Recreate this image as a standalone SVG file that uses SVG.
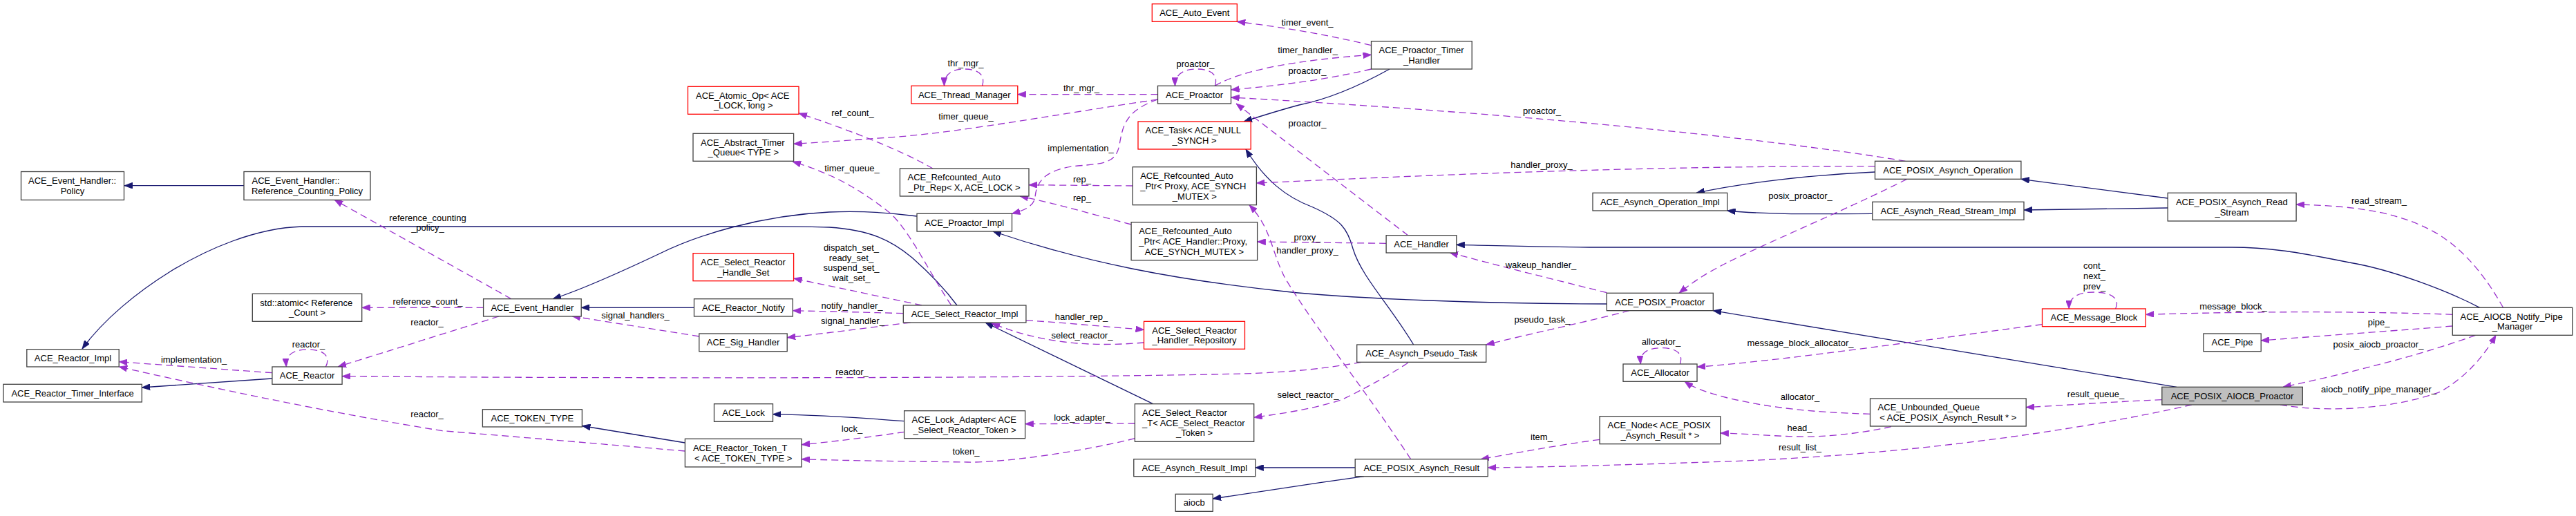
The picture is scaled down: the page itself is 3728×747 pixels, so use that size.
<svg xmlns="http://www.w3.org/2000/svg" width="3728" height="747" viewBox="0 0 3728 747">
<style>
text{font-family:"Liberation Sans",Arial,Helvetica,sans-serif;font-size:13px;fill:#000}
.c{text-anchor:middle}
.n rect{fill:#fff;stroke:#404040;stroke-width:1.3}
.r rect{fill:#fff;stroke:#ff0000;stroke-width:1.3}
.g rect{fill:#bfbfbf;stroke:#404040;stroke-width:1.3}
.inh{fill:none;stroke:#191970;stroke-width:1.3;marker-end:url(#ai)}
.use{fill:none;stroke:#9a32cd;stroke-width:1.3;stroke-dasharray:10,6;marker-end:url(#au)}
</style>
<defs>
<marker id="ai" viewBox="0 0 12 9" refX="12" refY="4.5" markerWidth="12" markerHeight="9" markerUnits="userSpaceOnUse" orient="auto"><path d="M0,0 L12,4.5 L0,9 z" fill="#191970" stroke="#191970" stroke-width="0.8"/></marker>
<marker id="au" viewBox="0 0 12 9" refX="12" refY="4.5" markerWidth="12" markerHeight="9" markerUnits="userSpaceOnUse" orient="auto"><path d="M0,0 L12,4.5 L0,9 z" fill="#9a32cd" stroke="#9a32cd" stroke-width="0.8"/></marker>
</defs>
<rect x="0" y="0" width="3728" height="747" fill="#fff"/>

<g id="edges">
<!-- inheritance -->
<path class="inh" d="M353,268.7 L180,268.7"/>
<path class="inh" d="M1385,442 C1365,415 1345,395 1320,373 C1290,348 1260,333 1200,329 C1150,327 1100,328 1069,328 L437,328 C370,330 300,360 245,394 C200,422 150,462 119,505"/>
<path class="inh" d="M1327,313 C1290,308 1250,305 1200,307 C1100,312 1010,340 955,367 C900,393 840,420 800,432.7"/>
<path class="inh" d="M1004.5,445.3 L841.2,445.3"/>
<path class="inh" d="M393.9,548 L205.3,561"/>
<path class="inh" d="M991.4,641 L842.4,616.5"/>
<path class="inh" d="M1308.6,609.7 C1250,605 1180,601 1118.4,599.7"/>
<path class="inh" d="M1668.6,584.7 L1426,467"/>
<path class="inh" d="M2325.3,440 C2150,440 1950,432 1860,422 C1700,405 1570,380 1437,335"/>
<path class="inh" d="M2011,100 C1975,120 1930,142 1880,152 C1850,160 1825,168 1800,176"/>
<path class="inh" d="M2045.7,499 C2010,440 1970,400 1958,360 C1950,330 1940,318 1900,300 C1860,285 1830,260 1803,216"/>
<path class="inh" d="M3150,560.3 L2479.2,449.7"/>
<path class="inh" d="M2713.5,249 C2620,253 2520,265 2455,279.3"/>
<path class="inh" d="M2709.8,309.3 C2600,310 2550,310 2499.6,305"/>
<path class="inh" d="M3137.2,287 L2925,259.3"/>
<path class="inh" d="M3137.2,301 L2929,304"/>
<path class="inh" d="M3588.6,445.3 C3540,420 3460,390 3400,380 C3340,368 3290,358 3230,358 L2300,358 C2200,357 2150,355 2107.8,354.3"/>
<path class="inh" d="M1961.2,677 L1816.7,677"/>
<path class="inh" d="M1974,689.7 C1900,700 1820,712 1755.1,722"/>

<!-- usage -->
<g><path class="use" d="M740,432.7 L484,289.3"/><text class="c" x="619" y="319.5">reference_counting</text><text class="c" x="619" y="333.5">_policy_</text></g>
<g><path class="use" d="M699.6,445.3 L523.7,445.3"/><text class="c" x="619" y="441">reference_count_</text></g>
<g><path class="use" d="M722,458 L489,531"/><text class="c" x="618" y="471">reactor_</text></g>
<g><path class="use" d="M1970,524.3 C1920,533 1880,538 1800,541 C1500,548 900,548 495.1,544.7"/><text class="c" x="1233" y="543">reactor_</text></g>
<g><path class="use" d="M991.4,653 C850,641 720,630 640,623.7 C480,598 300,560 172.2,531"/><text class="c" x="618" y="604">reactor_</text></g>
<g><path class="use" d="M393.9,539.7 L172.2,523.7"/><text class="c" x="280.6" y="525">implementation_</text></g>
<g><path class="use" d="M471.4,531 C478,518 472,506 445,506 C424,506 413,514 414.3,531"/><text class="c" x="446.5" y="502.5">reactor_</text></g>
<g><path class="use" d="M1011.8,487 L828,457.7"/><text class="c" x="919.5" y="461">signal_handlers_</text></g>
<g><path class="use" d="M1307.3,453.7 C1250,452 1200,451 1147.3,449.7"/><text class="c" x="1233" y="447">notify_handler_</text></g>
<g><path class="use" d="M1317.6,467 C1250,475 1200,482 1139.2,488.7"/><text class="c" x="1234" y="469">signal_handler_</text></g>
<g><path class="use" d="M1334,442 L1148.6,403"/><text class="c" x="1232" y="363">dispatch_set_</text><text class="c" x="1232" y="377.5">ready_set_</text><text class="c" x="1232" y="392">suspend_set_</text><text class="c" x="1232" y="406.5">wait_set_</text></g>
<g><path class="use" d="M1484.9,463.7 C1550,468 1600,473 1655.5,477.3"/><text class="c" x="1565" y="463">handler_rep_</text></g>
<g><path class="use" d="M1655.5,496 C1620,499 1580,500 1540,495 C1500,490 1465,480 1435,468"/><text class="c" x="1566" y="490">select_reactor_</text></g>
<g><path class="use" d="M1642.4,613 L1483.7,613.7"/><text class="c" x="1566" y="608.7">lock_adapter_</text></g>
<g><path class="use" d="M1642.4,634.7 C1560,655 1450,670 1400,669 C1320,668 1230,667 1160,664.7"/><text class="c" x="1398" y="658.3">token_</text></g>
<g><path class="use" d="M1308.6,625.3 C1270,631 1220,638 1160,643.7"/><text class="c" x="1233" y="625">lock_</text></g>
<g><path class="use" d="M2037.6,525.3 C2000,550 1960,570 1941.6,578.7 C1900,592 1860,598 1814.7,604.3"/><text class="c" x="1893" y="576">select_reactor_</text></g>
<g><path class="use" d="M2358,449.7 C2300,465 2220,482 2150.6,499"/><text class="c" x="2232" y="467">pseudo_task_</text></g>
<g><path class="use" d="M2325.3,423.7 C2250,405 2170,385 2098,365.7"/><text class="c" x="2230" y="387.7">wakeup_handler_</text></g>
<g><path class="use" d="M2759.6,259.3 C2680,300 2560,350 2500,380 C2470,395 2450,408 2430,424.3"/><text class="c" x="2605.5" y="288">posix_proactor_</text></g>
<g><path class="use" d="M2713.5,240.7 C2400,240 2100,252 1818.4,265"/><text class="c" x="2231" y="242.7">handler_proxy_</text></g>
<g><path class="use" d="M2757.5,233.3 C2620,210 2300,170 1781.6,141"/><text class="c" x="2231.5" y="165">proactor_</text></g>
<g><path class="use" d="M1984.5,100 C1920,115 1860,123 1781.6,130"/><text class="c" x="1892" y="107.3">proactor_</text></g>
<g><path class="use" d="M1758,124.3 C1800,100 1880,87 1984.5,79.3"/><text class="c" x="1892.5" y="76.7">timer_handler_</text></g>
<g><path class="use" d="M1984.5,65.7 C1920,50 1860,40 1790.2,31.3"/><text class="c" x="1892" y="36.7">timer_event_</text></g>
<g><path class="use" d="M1758.4,124.3 C1763,110 1755,100 1732,100 C1712,100 1700,108 1700.5,124.3"/><text class="c" x="1730" y="96.5">proactor_</text></g>
<g><path class="use" d="M1675.5,136.7 L1472.7,136.7"/><text class="c" x="1565" y="132.3">thr_mgr_</text></g>
<g><path class="use" d="M1421.6,124.3 C1426,110 1418,100 1396,100 C1377,100 1366,108 1366.5,124.3"/><text class="c" x="1397.5" y="95.7">thr_mgr_</text></g>
<g><path class="use" d="M1675.5,144 C1550,162 1400,190 1300,198 C1230,203 1190,206 1148.6,208.3"/><text class="c" x="1398" y="172.7">timer_queue_</text></g>
<g><path class="use" d="M1350,244 C1300,215 1220,185 1156,164"/><text class="c" x="1234" y="168">ref_count_</text></g>
<g><path class="use" d="M1376.7,442 C1345,395 1320,340 1290,310 C1240,270 1200,250 1147,234"/><text class="c" x="1233" y="248.3">timer_queue_</text></g>
<g><path class="use" d="M1675.5,144 C1630,160 1625,180 1620,210 C1615,235 1600,237 1560,240 C1510,245 1500,265 1498,285 C1496,300 1480,305 1464.5,309.3"/><text class="c" x="1564" y="219">implementation_</text></g>
<g><path class="use" d="M1639.2,269 L1489,267.7"/><text class="c" x="1566" y="264">rep_</text></g>
<g><path class="use" d="M1637.1,325 C1580,310 1530,295 1476,284"/><text class="c" x="1566" y="291.3">rep_</text></g>
<g><path class="use" d="M2006.1,352.3 L1819.6,350"/><text class="c" x="1892" y="348">proxy_</text></g>
<g><path class="use" d="M2041.6,664.7 C1980,570 1900,470 1860,403 C1840,365 1840,330 1808,296.7"/><text class="c" x="1892" y="367.3">handler_proxy_</text></g>
<g><path class="use" d="M2037.6,340.7 L1789,150"/><text class="c" x="1892" y="183">proactor_</text></g>
<g><path class="use" d="M2431.4,527 C2436,513 2428,503.7 2404,503.7 C2384,503.7 2373,511 2374.3,527"/><text class="c" x="2404" y="498.7">allocator_</text></g>
<g><path class="use" d="M2955.5,469.7 C2800,490 2600,520 2456,531.3"/><text class="c" x="2605.5" y="501">message_block_allocator_</text></g>
<g><path class="use" d="M2706.5,599.3 C2620,597 2560,590 2500,576 C2470,568 2452,562 2438,552.3"/><text class="c" x="2605" y="579.3">allocator_</text></g>
<g><path class="use" d="M2737,617.7 C2690,628 2640,633 2600,632 C2560,631 2530,628 2489.8,627"/><text class="c" x="2604.5" y="623.7">head_</text></g>
<g><path class="use" d="M2315.1,636.3 C2250,645 2200,655 2143,664.7"/><text class="c" x="2231" y="636.7">item_</text></g>
<g><path class="use" d="M3172,586 C3000,625 2750,660 2480,668.7 C2350,673 2250,676 2153.1,677"/><text class="c" x="2605" y="651.7">result_list_</text></g>
<g><path class="use" d="M3128.8,578.7 C3050,582 3000,586 2932.2,589.7"/><text class="c" x="3033" y="575.3">result_queue_</text></g>
<g><path class="use" d="M3549.3,455.3 C3400,450 3250,451 3105.3,455.3"/><text class="c" x="3232" y="447.7">message_block_</text></g>
<g><path class="use" d="M3549.3,472 C3450,480 3350,487 3272.2,493"/><text class="c" x="3442.6" y="471">pipe_</text></g>
<g><path class="use" d="M3582.6,485.3 C3500,515 3400,540 3304,560.3"/><text class="c" x="3442" y="503.3">posix_aiocb_proactor_</text></g>
<g><path class="use" d="M3300,586 C3350,595 3450,597 3532,567 C3570,545 3595,515 3612,485.3"/><text class="c" x="3442.6" y="567.7">aiocb_notify_pipe_manager_</text></g>
<g><path class="use" d="M3622.6,445.3 C3600,405 3570,365 3530,340 C3480,310 3420,298 3323.1,296"/><text class="c" x="3443" y="294.7">read_stream_</text></g>
<g><path class="use" d="M3061.6,447 C3068,433 3058,423 3030,423 C3005,423 2994,432 2994.3,447"/><text class="c" x="3031" y="388.7">cont_</text><text class="c" x="3031" y="403.7">next_</text><text class="c" x="3031" y="418.7">prev_</text></g>
</g>

<g id="n1" class="n"><rect x="30.5" y="248.5" width="149" height="41"/><text x="41" y="266.2">ACE_Event_Handler::</text><text class="c" x="105" y="280.9">Policy</text></g>
<g id="n2" class="n"><rect x="353" y="248.5" width="183" height="41"/><text x="364.5" y="266.2">ACE_Event_Handler::</text><text class="c" x="444.5" y="280.9">Reference_Counting_Policy</text></g>
<g id="n3" class="r"><rect x="995.5" y="125.3" width="160.5" height="40"/><text x="1007" y="142.5">ACE_Atomic_Op&lt; ACE</text><text class="c" x="1075.7" y="157.2">_LOCK, long &gt;</text></g>
<g id="n4" class="n"><rect x="1003" y="193.3" width="145.6" height="40"/><text x="1014" y="210.5">ACE_Abstract_Timer</text><text class="c" x="1075.8" y="225.2">_Queue&lt; TYPE &gt;</text></g>
<g id="n5" class="r"><rect x="1003" y="366.7" width="145.6" height="40"/><text x="1014" y="383.9">ACE_Select_Reactor</text><text class="c" x="1075.8" y="398.6">_Handle_Set</text></g>
<g id="n6" class="r"><rect x="1667.3" y="5.7" width="123" height="25.6"/><text class="c" x="1728.8" y="23.1">ACE_Auto_Event</text></g>
<g id="n7" class="r"><rect x="1318.8" y="124.3" width="154" height="25.7"/><text class="c" x="1395.8" y="141.7">ACE_Thread_Manager</text></g>
<g id="n8" class="n"><rect x="1675.5" y="124.3" width="106" height="25.7"/><text class="c" x="1728.5" y="141.7">ACE_Proactor</text></g>
<g id="n9" class="r"><rect x="1647" y="176" width="163.2" height="40"/><text x="1657.5" y="193.2">ACE_Task&lt; ACE_NULL</text><text class="c" x="1728.6" y="207.9">_SYNCH &gt;</text></g>
<g id="n10" class="n"><rect x="1302.4" y="244" width="186.6" height="40"/><text x="1313.5" y="261.2">ACE_Refcounted_Auto</text><text class="c" x="1395.7" y="275.9">_Ptr_Rep&lt; X, ACE_LOCK &gt;</text></g>
<g id="n11" class="n"><rect x="1639.2" y="241.7" width="179.2" height="55"/><text x="1650.2" y="259.1">ACE_Refcounted_Auto</text><text x="1650.2" y="273.8">_Ptr&lt; Proxy, ACE_SYNCH</text><text class="c" x="1728.8" y="288.5">_MUTEX &gt;</text></g>
<g id="n12" class="n"><rect x="1327" y="309.3" width="137.5" height="25.7"/><text class="c" x="1395.7" y="326.7">ACE_Proactor_Impl</text></g>
<g id="n13" class="n"><rect x="1637.1" y="321.7" width="182.5" height="55"/><text x="1648.2" y="339.1">ACE_Refcounted_Auto</text><text x="1648.2" y="353.8">_Ptr&lt; ACE_Handler::Proxy,</text><text class="c" x="1728.4" y="368.5">ACE_SYNCH_MUTEX &gt;</text></g>
<g id="n14" class="n"><rect x="1984.5" y="59.7" width="145.7" height="40.3"/><text x="1995.5" y="77.1">ACE_Proactor_Timer</text><text class="c" x="2057.4" y="91.8">_Handler</text></g>
<g id="n15" class="n"><rect x="2305" y="279.3" width="194.7" height="25.7"/><text class="c" x="2402.3" y="296.7">ACE_Asynch_Operation_Impl</text></g>
<g id="n16" class="n"><rect x="2006.1" y="340.7" width="101.7" height="25.3"/><text class="c" x="2057" y="358">ACE_Handler</text></g>
<g id="n17" class="n"><rect x="2713.5" y="233.3" width="211.4" height="26"/><text class="c" x="2819.2" y="250.9">ACE_POSIX_Asynch_Operation</text></g>
<g id="n18" class="n"><rect x="2709.8" y="292.3" width="219.2" height="26"/><text class="c" x="2819.4" y="309.9">ACE_Asynch_Read_Stream_Impl</text></g>
<g id="n19" class="n"><rect x="3137.2" y="279.3" width="185.9" height="40.7"/><text x="3148.9" y="296.9">ACE_POSIX_Asynch_Read</text><text class="c" x="3230" y="311.6">_Stream</text></g>
<g id="n20" class="n"><rect x="365.3" y="425.3" width="158.4" height="40"/><text x="376.3" y="442.5">std::atomic&lt; Reference</text><text class="c" x="444.5" y="457.2">_Count &gt;</text></g>
<g id="n21" class="n"><rect x="38.8" y="505.7" width="133.4" height="25.3"/><text class="c" x="105.5" y="523">ACE_Reactor_Impl</text></g>
<g id="n22" class="n"><rect x="393.9" y="531" width="101.2" height="25.3"/><text class="c" x="444.5" y="548.3">ACE_Reactor</text></g>
<g id="n23" class="n"><rect x="4.9" y="556.3" width="200.4" height="25.7"/><text class="c" x="105.1" y="573.7">ACE_Reactor_Timer_Interface</text></g>
<g id="n24" class="n"><rect x="699.6" y="432.7" width="141.6" height="25.3"/><text class="c" x="770.4" y="450">ACE_Event_Handler</text></g>
<g id="n25" class="n"><rect x="1004.5" y="432.7" width="142.8" height="25.3"/><text class="c" x="1075.9" y="450">ACE_Reactor_Notify</text></g>
<g id="n26" class="n"><rect x="1011.8" y="483" width="127.4" height="25.7"/><text class="c" x="1075.5" y="500.4">ACE_Sig_Handler</text></g>
<g id="n27" class="n"><rect x="698.4" y="592.7" width="144" height="25.3"/><text class="c" x="770.4" y="610">ACE_TOKEN_TYPE</text></g>
<g id="n28" class="n"><rect x="1033.5" y="584.7" width="85" height="25.6"/><text class="c" x="1076" y="602.1">ACE_Lock</text></g>
<g id="n29" class="n"><rect x="991.4" y="635.3" width="168.6" height="40.7"/><text x="1002.9" y="652.9">ACE_Reactor_Token_T</text><text class="c" x="1075.7" y="667.6">&lt; ACE_TOKEN_TYPE &gt;</text></g>
<g id="n30" class="n"><rect x="1307.3" y="442" width="177.6" height="25"/><text class="c" x="1396" y="459.1">ACE_Select_Reactor_Impl</text></g>
<g id="n31" class="r"><rect x="1655.5" y="465.3" width="146" height="40"/><text x="1667.3" y="482.5">ACE_Select_Reactor</text><text class="c" x="1728.5" y="497.2">_Handler_Repository</text></g>
<g id="n32" class="n"><rect x="1308.6" y="594.7" width="175" height="40"/><text x="1319.6" y="611.9">ACE_Lock_Adapter&lt; ACE</text><text class="c" x="1396" y="626.6">_Select_Reactor_Token &gt;</text></g>
<g id="n33" class="n"><rect x="1642.4" y="584.7" width="172.3" height="54.6"/><text x="1653" y="601.9">ACE_Select_Reactor</text><text x="1653" y="616.6">_T&lt; ACE_Select_Reactor</text><text class="c" x="1728.5" y="631.3">_Token &gt;</text></g>
<g id="n34" class="n"><rect x="1640.8" y="664.7" width="176" height="25"/><text class="c" x="1728.8" y="681.8">ACE_Asynch_Result_Impl</text></g>
<g id="n35" class="n"><rect x="1701.2" y="715.3" width="54" height="25"/><text class="c" x="1728.2" y="732.4">aiocb</text></g>
<g id="n36" class="n"><rect x="2325.3" y="424.3" width="154" height="25.4"/><text class="c" x="2402.3" y="441.6">ACE_POSIX_Proactor</text></g>
<g id="n37" class="n"><rect x="1963.7" y="499" width="187" height="25.3"/><text class="c" x="2057.2" y="516.2">ACE_Asynch_Pseudo_Task</text></g>
<g id="n38" class="n"><rect x="2349" y="527" width="107" height="25.3"/><text class="c" x="2402.5" y="544.2">ACE_Allocator</text></g>
<g id="n39" class="n"><rect x="2315.1" y="602.7" width="174.7" height="40"/><text x="2326.5" y="619.9">ACE_Node&lt; ACE_POSIX</text><text class="c" x="2402.5" y="634.6">_Asynch_Result * &gt;</text></g>
<g id="n40" class="n"><rect x="1961.2" y="664.7" width="192" height="25"/><text class="c" x="2057.2" y="681.8">ACE_POSIX_Asynch_Result</text></g>
<g id="n41" class="r"><rect x="2955.5" y="447" width="149.8" height="25.7"/><text class="c" x="3030.4" y="464.4">ACE_Message_Block</text></g>
<g id="n42" class="n"><rect x="2706.5" y="577" width="225.7" height="40"/><text x="2717.6" y="594.2">ACE_Unbounded_Queue</text><text class="c" x="2819.3" y="608.9">&lt; ACE_POSIX_Asynch_Result * &gt;</text></g>
<g id="n43" class="n"><rect x="3549.3" y="445.3" width="173.4" height="40"/><text x="3560.5" y="462.5">ACE_AIOCB_Notify_Pipe</text><text class="c" x="3636" y="477.2">_Manager</text></g>
<g id="n44" class="n"><rect x="3188.9" y="483" width="83.3" height="25.7"/><text class="c" x="3230.5" y="500.4">ACE_Pipe</text></g>
<g id="n45" class="g"><rect x="3128.8" y="560.3" width="203.5" height="25.7"/><text class="c" x="3230.5" y="577.7">ACE_POSIX_AIOCB_Proactor</text></g>
</svg>
